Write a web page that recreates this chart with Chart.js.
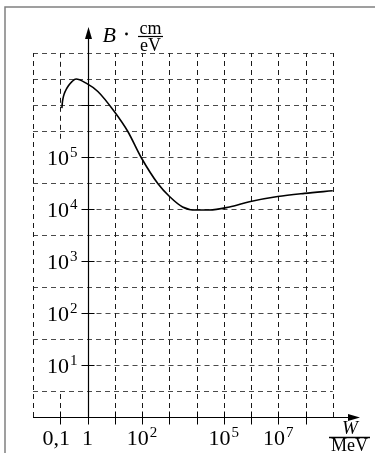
<!DOCTYPE html>
<html>
<head>
<meta charset="utf-8">
<script src="https://cdn.jsdelivr.net/npm/chart.js@4.4.1/dist/chart.umd.min.js"></script>
<style>
  html, body { margin: 0; padding: 0; background: #fff; }
  canvas { display: block; }
</style>
</head>
<body>
<canvas id="chart" width="375" height="453"></canvas>
<script>
// Curve, stored as decimal exponents:
// logW = log10(W / MeV), logB = log10(B / (cm/eV))
const logW = [-0.94, -0.92, -0.88, -0.81, -0.70, -0.57, -0.42, -0.05, 0.38, 0.99,
              1.48, 1.97, 2.58, 3.01, 3.49, 3.99, 4.47, 5.21, 5.94, 6.98, 7.96, 9.0];
const logB = [5.94, 6.06, 6.17, 6.27, 6.37, 6.45, 6.50, 6.42, 6.26, 5.87,
              5.49, 4.99, 4.49, 4.24, 4.04, 3.98, 3.98, 4.04, 4.14, 4.24, 4.30, 4.35];

// dashed grid: one line per decade of W, one per half decade of B
const gridX = [-2, -1, 0, 1, 2, 3, 4, 5, 6, 7, 8, 9];
const gridY = [0, 0.5, 1, 1.5, 2, 2.5, 3, 3.5, 4, 4.5, 5, 5.5, 6, 6.5, 7];

// axis ticks and labels
const xTicks = [-1, 1, 2, 3, 4, 5, 6, 7, 8];
const xLabelPos = [-1, 0, 2, 5, 7];
const xLabelBase = ['0,1', '1', '10', '10', '10'];
const xLabelExp = ['', '', '2', '5', '7'];
const yTicks = [1, 2, 3, 4, 5, 6];
const yLabelPos = [1, 2, 3, 4, 5];
const yLabelBase = ['10', '10', '10', '10', '10'];
const yLabelExp = ['1', '2', '3', '4', '5'];

const SERIF = '"Liberation Serif", "DejaVu Serif", serif';

function drawPower(ctx, base, exp, x, y, align) {
  ctx.font = '22px ' + SERIF;
  const wb = ctx.measureText(base).width;
  ctx.font = '15px ' + SERIF;
  const we = exp ? ctx.measureText(exp).width + 1 : 0;
  const total = wb + we;
  let left = x;
  if (align === 'center') left = x - total / 2;
  if (align === 'right') left = x - total;
  ctx.textAlign = 'left';
  ctx.textBaseline = 'alphabetic';
  ctx.font = '22px ' + SERIF;
  ctx.fillText(base, left, y);
  if (exp) {
    ctx.font = '15px ' + SERIF;
    ctx.fillText(exp, left + wb + 1, y - 8);
  }
}

function drawFraction(ctx, top, bottom, cx, lineY, size) {
  ctx.font = size + 'px ' + SERIF;
  const w = Math.max(ctx.measureText(top).width, ctx.measureText(bottom).width) + 3;
  ctx.textAlign = 'center';
  ctx.textBaseline = 'alphabetic';
  ctx.fillText(top, cx, lineY - 2);
  ctx.fillText(bottom, cx, lineY + size - 3);
  ctx.beginPath();
  ctx.lineWidth = 1.2;
  ctx.moveTo(cx - w / 2, lineY + 0.5);
  ctx.lineTo(cx + w / 2, lineY + 0.5);
  ctx.stroke();
}

function dashLine(ctx, x1, y1, x2, y2) {
  ctx.beginPath();
  ctx.moveTo(x1, y1);
  ctx.lineTo(x2, y2);
  ctx.stroke();
}

const sketchPlugin = {
  id: 'sketch',
  beforeDatasetsDraw(chart) {
    const { ctx, scales: { x, y } } = chart;
    const x0 = x.getPixelForValue(0);
    const y0 = y.getPixelForValue(0);
    const gxL = x.getPixelForValue(gridX[0]);
    const gxR = x.getPixelForValue(gridX[gridX.length - 1]);
    const gyB = y.getPixelForValue(gridY[0]);
    const gyT = y.getPixelForValue(gridY[gridY.length - 1]);
    ctx.save();

    // frame (left and top edges)
    ctx.strokeStyle = '#808080';
    ctx.lineWidth = 1.5;
    ctx.beginPath();
    ctx.moveTo(5, 453);
    ctx.lineTo(5, 7);
    ctx.lineTo(375, 7);
    ctx.stroke();

    // dashed grid
    ctx.lineWidth = 1;
    ctx.setLineDash([5, 4]);
    ctx.strokeStyle = '#4a4a4a';
    gridY.forEach(v => {
      const py = Math.round(y.getPixelForValue(v)) + 0.5;
      // labelled decades start at the axis, the label sits left of it
      const start = yLabelPos.includes(v) ? x0 : gxL;
      dashLine(ctx, start, py, gxR, py);
    });
    ctx.strokeStyle = '#1a1a1a';
    gridX.forEach(v => {
      const px = Math.round(x.getPixelForValue(v)) + 0.5;
      if (v === -1) {
        // this line is left out behind the y labels
        dashLine(ctx, px, gyB, px, y.getPixelForValue(0.5));
        dashLine(ctx, px, y.getPixelForValue(5.35), px, gyT);
      } else {
        dashLine(ctx, px, gyB, px, gyT);
      }
    });
    ctx.setLineDash([]);

    // axes with arrows
    ctx.strokeStyle = '#000';
    ctx.fillStyle = '#000';
    ctx.lineWidth = 1.2;
    const ax = Math.round(x0) + 0.5;
    const ay = Math.round(y0) + 0.5;
    const xEnd = chart.chartArea.right;
    const yEnd = chart.chartArea.top;
    ctx.beginPath();
    ctx.moveTo(gxL, ay);
    ctx.lineTo(xEnd - 8, ay);
    ctx.moveTo(ax, ay);
    ctx.lineTo(ax, yEnd + 8);
    ctx.stroke();
    ctx.beginPath();
    ctx.moveTo(xEnd, ay);
    ctx.lineTo(xEnd - 12, ay - 3.5);
    ctx.lineTo(xEnd - 12, ay + 3.5);
    ctx.closePath();
    ctx.fill();
    ctx.beginPath();
    ctx.moveTo(ax, yEnd);
    ctx.lineTo(ax - 3.5, yEnd + 12);
    ctx.lineTo(ax + 3.5, yEnd + 12);
    ctx.closePath();
    ctx.fill();

    // ticks
    ctx.lineWidth = 1;
    xTicks.forEach(v => {
      const px = Math.round(x.getPixelForValue(v)) + 0.5;
      ctx.beginPath();
      ctx.moveTo(px, ay - 6);
      ctx.lineTo(px, ay + 7);
      ctx.stroke();
    });
    ctx.beginPath();
    ctx.moveTo(ax, ay);
    ctx.lineTo(ax, ay + 7);
    ctx.stroke();
    yTicks.forEach(v => {
      const py = Math.round(y.getPixelForValue(v)) + 0.5;
      ctx.beginPath();
      ctx.moveTo(ax - 7, py);
      ctx.lineTo(ax + 6, py);
      ctx.stroke();
    });
    ctx.restore();
  },
  afterDraw(chart) {
    const { ctx, scales: { x, y } } = chart;
    const x0 = x.getPixelForValue(0);
    const y0 = y.getPixelForValue(0);
    ctx.save();
    ctx.fillStyle = '#000';
    ctx.strokeStyle = '#000';

    xLabelPos.forEach((v, i) => {
      const shift = xLabelBase[i] === '0,1' ? -4 : 0;
      drawPower(ctx, xLabelBase[i], xLabelExp[i], x.getPixelForValue(v) + shift, y0 + 28, 'center');
    });
    yLabelPos.forEach((v, i) => {
      drawPower(ctx, yLabelBase[i], yLabelExp[i], x0 - 10, y.getPixelForValue(v) + 8, 'right');
    });

    // y axis title: B · cm/eV
    ctx.font = 'italic 22px ' + SERIF;
    ctx.textAlign = 'left';
    ctx.textBaseline = 'alphabetic';
    ctx.fillText('B', x0 + 15, 42);
    ctx.beginPath();
    ctx.arc(x0 + 39, 34, 1.4, 0, Math.PI * 2);
    ctx.fill();
    drawFraction(ctx, 'cm', 'eV', x0 + 63, 36, 18);

    // x axis title: W / MeV
    ctx.font = 'italic 19px ' + SERIF;
    ctx.textAlign = 'center';
    ctx.fillText('W', 350, 434);
    ctx.beginPath();
    ctx.lineWidth = 1.5;
    ctx.moveTo(329, 437.5);
    ctx.lineTo(370, 437.5);
    ctx.stroke();
    ctx.font = '18px ' + SERIF;
    ctx.fillText('MeV', 349.5, 451);
    ctx.restore();
  }
};

const points = logW.map((w, i) => ({ x: w, y: logB[i] }));

new Chart(document.getElementById('chart').getContext('2d'), {
  type: 'line',
  data: {
    datasets: [{
      data: points,
      borderColor: '#000',
      borderWidth: 1.6,
      pointRadius: 0,
      fill: false,
      cubicInterpolationMode: 'monotone',
      clip: false
    }]
  },
  options: {
    responsive: false,
    animation: false,
    layout: { padding: { left: 33, right: 15, top: 27, bottom: 36 } },
    plugins: { legend: { display: false }, tooltip: { enabled: false } },
    scales: {
      x: { type: 'linear', min: -2, max: 10, display: false },
      y: { type: 'linear', min: 0, max: 7.5, display: false }
    }
  },
  plugins: [sketchPlugin]
});
</script>
</body>
</html>
